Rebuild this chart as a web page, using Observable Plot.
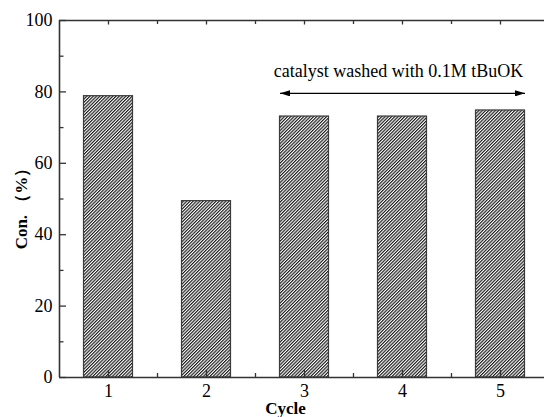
<!DOCTYPE html>
<html><head><meta charset="utf-8">
<script src="https://cdn.jsdelivr.net/npm/d3@7"></script>
<script src="https://cdn.jsdelivr.net/npm/@observablehq/plot@0.6"></script>
<style>
body{margin:0;background:#fff}
#chart svg, #chart svg text { font-family: "Liberation Serif", "Times New Roman", Tinos, Times, serif !important; }
</style>
</head><body><div id="chart"></div>
<script>
const cycles = [1, 2, 3, 4, 5];
const conversion = [78.8, 49.4, 73.1, 73.1, 74.8];
const yTicks = [0, 20, 40, 60, 80, 100];
const yMinorTicks = [10, 30, 50, 70, 90];
const xMinorTicks = [1.5, 2.5, 3.5, 4.5];
const annotationText = ["catalyst washed with 0.1M tBuOK"];
const annotationSpan = [2.75, 5.25];
const annotationArrowY = 79.6;
const annotationTextY = 84.2;
const xLabel = ["Cycle"];
const yLabel = ["Con. （%）"];

const data = cycles.map((c, i) => ({cycle: c, value: conversion[i]}));
const barHalf = 0.25;
const arrowData = [{x1: annotationSpan[0], x2: annotationSpan[1], y: annotationArrowY}];
const textData = [{x: (annotationSpan[0] + annotationSpan[1]) / 2, y: annotationTextY, label: annotationText[0]}];
const axisColor = "#333";
const font = "Liberation Serif, Times New Roman, serif";

const svg = Plot.plot({
  width: 544,
  height: 417,
  marginLeft: 59,
  marginTop: 20,
  marginBottom: 40,
  marginRight: 0,
  style: {fontFamily: font, fontSize: "18px", background: "white", color: "#000"},
  x: {type: "linear", domain: [0.5, 5.449], axis: null},
  y: {domain: [0, 100], axis: null},
  marks: [
    Plot.rectY(data, {
      x1: d => d.cycle - barHalf, x2: d => d.cycle + barHalf,
      y1: 0, y2: "value",
      fill: "url(#hatch)", stroke: "#3a3a3a", strokeWidth: 1.2
    }),
    Plot.ruleY([0, 100], {stroke: axisColor, strokeWidth: 1.6}),
    Plot.ruleX([0.5], {y1: 0, y2: 100, stroke: axisColor, strokeWidth: 1.6}),
    Plot.axisY({ticks: yTicks, tickSize: -7, tickPadding: 14, stroke: axisColor, strokeWidth: 1.3, fontSize: 18, fontFamily: font, tickFormat: d => d}),
    Plot.axisY({ticks: yMinorTicks, tickSize: -4.5, text: null, stroke: axisColor, strokeWidth: 1.3}),
    Plot.axisX({anchor: "bottom", ticks: cycles, tickSize: -7, tickPadding: 14.2, stroke: axisColor, strokeWidth: 1.3, fontSize: 18, fontFamily: font, tickFormat: d => d}),
    Plot.axisX({anchor: "bottom", ticks: xMinorTicks, tickSize: -4, text: null, stroke: axisColor, strokeWidth: 1.3}),
    Plot.axisX({anchor: "top", ticks: cycles, tickSize: -3.5, text: null, stroke: axisColor, strokeWidth: 1.3}),
    Plot.axisX({anchor: "top", ticks: xMinorTicks, tickSize: -3, text: null, stroke: axisColor, strokeWidth: 1.3}),
    Plot.link(arrowData, {x1: "x1", x2: "x2", y1: "y", y2: "y", stroke: "#000", strokeWidth: 1.3}),
    Plot.text(textData, {x: "x", y: "y", text: "label", dx: -4, fontSize: 18, fontFamily: font, textAnchor: "middle", lineAnchor: "bottom", fill: "#000"}),
    Plot.text(xLabel, {frameAnchor: "bottom", text: d => d, dx: -16.5, dy: 31, fontSize: 17, fontFamily: font, fontWeight: "bold", textAnchor: "middle", lineAnchor: "middle", fill: "#000"}),
    Plot.text(yLabel, {frameAnchor: "left", text: d => d, rotate: -90, dx: -38, dy: 5.5, fontSize: 17, fontFamily: font, fontWeight: "bold", textAnchor: "middle", lineAnchor: "middle", fill: "#000"})
  ]
});

const ns = "http://www.w3.org/2000/svg";
const defs = document.createElementNS(ns, "defs");
defs.innerHTML = `
  <pattern id="hatch" patternUnits="userSpaceOnUse" width="2.3" height="2.3" patternTransform="rotate(45)">
    <rect width="2.3" height="2.3" fill="#fff"/>
    <line x1="0.6" y1="0" x2="0.6" y2="2.3" stroke="#000" stroke-width="1.05"/>
  </pattern>
  <marker id="ahead" viewBox="0 0 10 6" refX="10" refY="3" markerWidth="10" markerHeight="6" markerUnits="userSpaceOnUse" orient="auto-start-reverse">
    <path d="M0,0L10,3L0,6z" fill="#000"/>
  </marker>`;
svg.insertBefore(defs, svg.firstChild);
const linkPath = svg.querySelector('g[aria-label="link"] path');
if (linkPath) {
  linkPath.setAttribute("marker-start", "url(#ahead)");
  linkPath.setAttribute("marker-end", "url(#ahead)");
}
document.getElementById("chart").appendChild(svg);
</script>
</body></html>
